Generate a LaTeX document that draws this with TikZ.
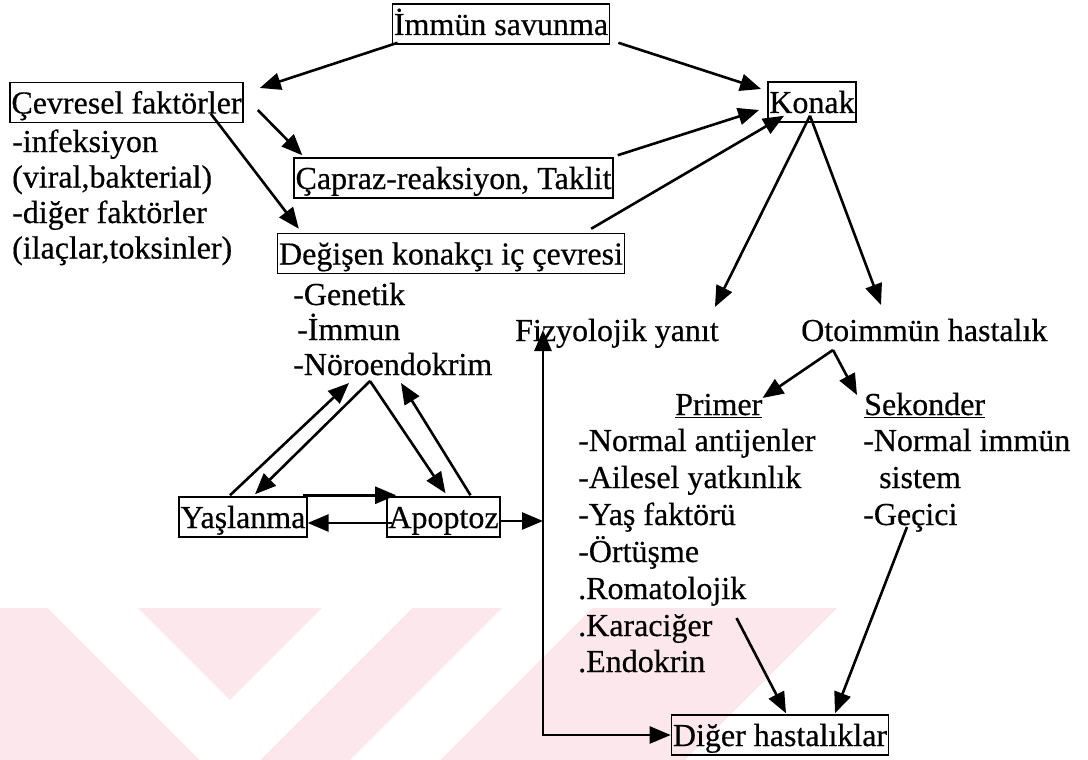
\documentclass[tikz,border=0pt]{standalone}
\usepackage{fontspec}
\setmainfont{Liberation Serif}[FakeBold=0.5]
\usetikzlibrary{arrows.meta,calc}
\definecolor{wm}{RGB}{252,232,236}
\begin{document}
\begin{tikzpicture}[x=1pt,y=-1pt,
  every node/.style={font=\fontsize{32}{35.5}\selectfont, inner sep=0pt},
  box/.style={draw, line width=1.5pt, inner xsep=1.5pt, inner ysep=2pt, text height=29pt, text depth=7pt},
  lbl/.style={anchor=base west},
  arr/.style={line width=2.6pt, -{Triangle[length=21pt,width=17pt]}}
]
\useasboundingbox (0,0) rectangle (1088,760);
% watermark
\fill[wm] (0,608) -- (837,608) -- (685,760) -- (0,760) -- cycle;
\fill[white] (48,608) -- (138,608) -- (230,700) -- (322,608) -- (412,608) -- (260,760) -- (200,760) -- cycle;
\fill[white] (502,608) -- (592,608) -- (440,760) -- (350,760) -- cycle;

% boxes
\node[box] (imm) at (501,24) {İmmün savunma};
\node[box] (konak) at (812,102) {Konak};
\node[box] (cev) at (126.5,102.5) {Çevresel faktörler};
\node[box] (cap) at (453.5,178) {Çapraz-reaksiyon, Taklit};
\node[box] (deg) at (451,253.5) {Değişen konakçı iç çevresi};
\node[box] (yas) at (243,517) {Yaşlanma};
\node[box] (apo) at (443.5,517) {Apoptoz};
\node[box] (dh) at (780,735) {Diğer hastalıklar};

% texts
\node[lbl] (c1) at (12,152) {-infeksiyon};
\node[lbl] (c2) at (12,187.5) {(viral,bakterial)};
\node[lbl] (c3) at (12,223) {-diğer faktörler};
\node[lbl] (c4) at (12,258.5) {(ilaçlar,toksinler)};
\node[lbl] (gen) at (293,305) {-Genetik};
\node[lbl] (imu) at (297,340) {-İmmun};
\node[lbl] (noro) at (293,375) {-Nöroendokrim};
\node[lbl] (fiz) at (515,341) {Fizyolojik yanıt};
\node[lbl] (oto) at (801,341) {Otoimmün hastalık};
\node[lbl] (pri) at (675,415) {\underline{Primer}};
\node[lbl] (sek) at (864,415) {\underline{Sekonder}};
\node[lbl] (p1) at (578,451) {-Normal antijenler};
\node[lbl] (p2) at (578,488) {-Ailesel yatkınlık};
\node[lbl] (p3) at (578,525) {-Yaş faktörü};
\node[lbl] (p4) at (578,562) {-Örtüşme};
\node[lbl] (p5) at (578,599) {.Romatolojik};
\node[lbl] (p6) at (578,636) {.Karaciğer};
\node[lbl] (p7) at (578,672) {.Endokrin};
\node[lbl] (s1) at (863,451) {-Normal immün};
\node[lbl] (s2) at (879,488) {sistem};
\node[lbl] (s3) at (863,525) {-Geçici};

% connectors
\draw[arr] ($(imm.south west)+(6,-2)$) -- ($(cev.east)+(16,-14.5)$);
\draw[arr] ($(imm.south east)+(8,-2)$) -- ($(konak.west)+(-6,-13)$);
\draw[arr] ($(cev.east)+(14,7.5)$) -- ($(cap.north west)+(9,-2)$);
\draw[arr] ($(cev.south east)+(-33,-9.5)$) -- ($(deg.north west)+(22,-4)$);
\draw[arr] ($(cap.north east)+(4,-2)$) -- ($(konak.west)+(-8,8)$);
\draw[arr] ($(deg.north east)+(-34,-4)$) -- ($(konak.south west)+(17,-7)$);
\coordinate (kb) at ($(konak.south)+(-2,-7)$);
\draw[arr] (kb) -- ($(fiz.base east)+(-4,-34)$);
\draw[arr] (kb) -- ($(oto.base west)+(80,-36)$);
\coordinate (ov) at ($(oto.base west)+(32,9)$);
\draw[arr] (ov) -- ($(pri.base east)+(0,-17)$);
\draw[arr] (ov) -- ($(sek.base west)+(-7,-20)$);
\draw[arr] ($(p6.base east)+(24,-18)$) -- ($(dh.north)+(6,-1)$);
\draw[arr] ($(s3.base west)+(44,2)$) -- ($(dh.north)+(55,-1)$);

\coordinate (ft) at ($(fiz.base west)+(28,-11)$);
\coordinate (j) at ($(ft |- apo.east)+(0,4)$);
\draw[arr] ($(apo.east)+(0,4)$) -- (j);
\draw[arr] (j) -- (ft);
\draw[arr] (j) |- (dh.west);

\draw[arr] ($(yas.north)+(-13,-1)$) -- ($(noro.base west)+(56,8)$);
\coordinate (nv) at ($(noro.base west)+(77,6)$);
\draw[arr] (nv) -- ($(yas.north)+(12,-2)$);
\draw[arr] (nv) -- ($(apo.north)+(2,-3)$);
\draw[arr] ($(apo.north)+(27,-1)$) -- ($(noro.base west)+(108,8)$);

\draw[arr] ($(yas.north east)+(-5,-1)$) -- ($(apo.north west)+(10,-1)$);
\draw[arr] ($(apo.west)+(6,6)$) -- ($(yas.east)+(0,6)$);
\end{tikzpicture}
\end{document}
